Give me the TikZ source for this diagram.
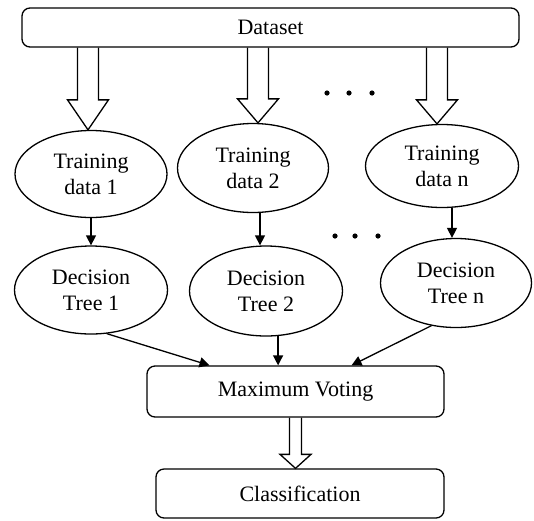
\documentclass[tikz,border=0pt]{standalone}
\usepackage{fontspec}
\setmainfont{Liberation Serif}
\usepackage{tikz}
\usetikzlibrary{positioning,calc,shapes.geometric,arrows.meta}

% hollow block arrow: start, end, shaft half width, head half width, head length
\newcommand{\fatarrow}[5]{%
\draw[fat] let \p1=#1, \p2=#2 in
  ({\x2-#3},\y1) -- ({\x2-#3},{\y2+#5}) -- ({\x2-#4},{\y2+#5}) -- (\x2,\y2)
  -- ({\x2+#4},{\y2+#5}) -- ({\x2+#3},{\y2+#5}) -- ({\x2+#3},\y1);}

\begin{document}
\begin{tikzpicture}[x=0.5pt,y=-0.5pt,line width=0.65pt,
  font=\fontsize{11}{13}\selectfont,
  box/.style={draw,rounded corners=4pt,align=center,inner sep=0pt},
  oval/.style={draw,ellipse,align=center,inner sep=0.5pt},
  tip/.style={-{Triangle[length=5pt,width=5pt]}},
  fat/.style={line join=miter}]
\useasboundingbox (0,0) rectangle (534,520);

\node[box,minimum width=248.5pt,minimum height=19.5pt] (ds) at (270.5,27.5) {Dataset};

\node[oval,minimum width=76pt,minimum height=43.5pt] (tr1) at (91,174) {Training\\data 1};
\node[oval,minimum width=75.5pt,minimum height=44.5pt] (tr2) at (253,168) {Training\\data 2};
\node[oval,minimum width=76.5pt,minimum height=41.5pt] (trn) at (442,166) {Training\\data n};

\node[oval,minimum width=76.5pt,minimum height=44pt] (dt1) at (91,290) {Decision\\Tree 1};
\node[oval,minimum width=76.5pt,minimum height=45pt] (dt2) at (266,291) {Decision\\Tree 2};
\node[oval,minimum width=75.5pt,minimum height=44.5pt] (dtn) at (456,283) {Decision\\Tree n};

\node[box,minimum width=148.5pt,minimum height=25.5pt] (mv) at (295.5,391.5) {Maximum Voting};
\node[box,minimum width=144pt,minimum height=24.5pt] (cl) at (300,493.5) {Classification};

% dataset to training sets
\fatarrow{(ds.south)}{([xshift=-1.5pt]tr1.north)}{5.25pt}{10.25pt}{15pt}
\fatarrow{(ds.south)}{([xshift=2.5pt]tr2.north)}{5.25pt}{10.25pt}{12pt}
\fatarrow{(ds.south)}{([xshift=-2.5pt]trn.north)}{5.25pt}{10.25pt}{12pt}

\foreach \x in {327,349,372} \fill (\x,93) circle (1.3pt);
\foreach \x in {335,355,378} \fill (\x,236) circle (1.3pt);

% training sets to trees
\draw[tip] (tr1.south) -- (dt1.north);
\draw[tip] ([xshift=3.5pt]tr2.south) -- ([xshift=3.5pt]tr2.south |- dt2.north);
\draw[tip] ([xshift=5pt]trn.south) -- ([xshift=5pt]trn.south |- dtn.north);

% trees to voting
\draw[tip] (dt1.-70) -- ([xshift=-43pt]mv.north);
\draw[tip] (dt2.-75) -- (dt2.-75 |- mv.north);
\draw[tip] (dtn.-120) -- ([xshift=28pt]mv.north);

\fatarrow{(mv.south)}{(mv.south |- cl.north)}{3pt}{7.75pt}{7pt}
\end{tikzpicture}
\end{document}
